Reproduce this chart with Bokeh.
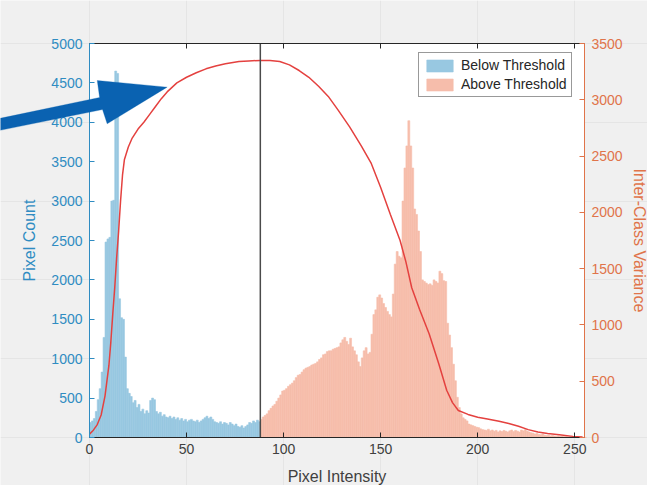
from bokeh.plotting import figure
from bokeh.models import (Range1d, LinearAxis, Legend, LegendItem, Label,
                          PolyAnnotation, BoxAnnotation, ColumnDataSource,
                          FixedTicker)
from bokeh.embed import file_html
from bokeh.resources import INLINE

# ---------------- data ----------------
THRESHOLD = 88

# pixel counts for intensities 0..87 (below threshold)
BELOW_COUNTS = [
    190, 210, 240, 330, 480, 620, 830, 1270, 2480, 2520,
    2540, 3000, 3010, 4650, 4620, 1760, 1520, 1500, 1020, 620,
    560, 520, 440, 470, 380, 420, 330, 360, 300, 340,
    310, 470, 500, 480, 330, 300, 320, 270, 290, 260,
    250, 270, 240, 260, 230, 250, 220, 240, 210, 230,
    200, 220, 230, 210, 200, 220, 190, 210, 230, 250,
    270, 240, 260, 230, 200, 190, 180, 200, 170, 190,
    180, 160, 190, 170, 150, 170, 140, 130, 150, 120,
    140, 160, 190, 180, 210, 190, 220, 200,
]

# pixel counts for intensities 88..255 (above threshold)
ABOVE_COUNTS = [
    230, 260, 280, 300, 340, 370, 400, 420, 460, 500,
    540, 590, 600, 620, 650, 670, 690, 720, 760, 790,
    800, 830, 860, 880, 890, 900, 920, 930, 940, 960,
    990, 1010, 1050, 1060, 1090, 1100, 1100, 1120, 1130, 1140,
    1150, 1200, 1240, 1270, 1220, 1180, 1260, 1150, 1100, 1050,
    960, 900, 1010, 1100, 1140, 1060, 1080, 1310, 1560, 1620,
    1780, 1810, 1770, 1700, 1650, 1600, 1560, 1530, 1820, 2200,
    2360, 2300, 2280, 3000, 3420, 3700, 4020, 3700, 3420, 2900,
    2830, 2620, 2360, 2000, 1980, 1960, 1940, 1950, 1930, 2000,
    1980, 1960, 2110, 2080, 1990, 1980, 1450, 1300, 1140, 930,
    720, 510, 380, 300, 250, 230, 210, 170, 160, 150,
    140, 130, 125, 110, 100, 95, 90, 105, 85, 95,
    80, 90, 70, 85, 75, 90, 80, 70, 85, 95,
    75, 90, 80, 70, 95, 85, 100, 80, 70, 60,
    55, 45, 50, 40, 35, 45, 30, 25, 30, 20,
    25, 20, 15, 20, 15, 20, 12, 15, 10, 12,
    8, 10, 6, 5, 4, 3, 2, 1,
]

# inter-class variance curve, sampled points (intensity, variance)
VAR_BINS = [0, 2, 4, 6, 8, 10, 11, 12, 13, 14, 15, 16, 17, 18, 20, 22, 25, 28,
            31, 34, 37, 40, 45, 50, 55, 60, 65, 70, 77, 82, 88, 93, 98, 103,
            108, 113, 118, 123, 128, 134, 140, 145, 150, 155, 160, 163, 166,
            170, 175, 180, 184, 187, 190, 195, 200, 205, 211, 216, 221, 226,
            231, 236, 242, 249, 254]
VAR_VALUES = [30, 65, 115, 200, 370, 640, 850, 1100, 1330, 1600, 1830, 2100,
              2330, 2470, 2580, 2660, 2740, 2800, 2870, 2940, 3010, 3070, 3150,
              3200, 3240, 3275, 3300, 3320, 3340, 3345, 3350, 3350, 3340, 3310,
              3260, 3200, 3120, 3030, 2910, 2760, 2590, 2440, 2220, 1980, 1750,
              1560, 1330, 1140, 920, 650, 420, 310, 240, 205, 180, 165, 145,
              125, 100, 70, 48, 35, 25, 10, 5]

X_MIN, X_MAX = 0, 255
COUNT_MAX = 5000
VAR_MAX = 3500
X_TICKS = [0, 50, 100, 150, 200, 250]
COUNT_TICKS = [0, 500, 1000, 1500, 2000, 2500, 3000, 3500, 4000, 4500, 5000]
VAR_TICKS = [0, 500, 1000, 1500, 2000, 2500, 3000, 3500]

X_LABEL = "Pixel Intensity"
Y_LABEL = "Pixel Count"
Y2_LABEL = "Inter-Class Variance"

# annotation arrow outline (data units of the count axis)
ARROW_X = [-46.5, 5.2, 4.0, 40.0, 9.1, 6.7, -46.5]
ARROW_Y = [4048, 4315, 4530, 4446, 3981, 4162, 3896]

# ---------------- layout / styling ----------------
FIG_W, FIG_H = 647, 485
BOX_L, BOX_R, BOX_T, BOX_B = 89, 584, 43, 437   # axes box, canvas pixels
FONT = "Liberation Sans"
BG = "#f0f0f0"
BLUE_AX = "#2f8cc2"
ORANGE_AX = "#e0744a"
DARK_AX = "#262626"
BLUE_BAR = "#98c8e1"
SALMON_BAR = "#f6bdab"
CURVE = "#e4413f"
ARROW_COLOR = "#0a62b1"

# The plotting frame covers the whole canvas (so nothing is clipped, and the
# arrow can reach the left edge); axes sit at fixed data locations.
ppx = (BOX_R - BOX_L) / (X_MAX - X_MIN)
ppy = (BOX_B - BOX_T) / COUNT_MAX
x_range = Range1d(X_MIN - BOX_L / ppx, X_MAX + (FIG_W - BOX_R) / ppx)
y_lo = -(FIG_H - BOX_B) / ppy
y_hi = COUNT_MAX + BOX_T / ppy
y_range = Range1d(y_lo, y_hi)
var_scale = VAR_MAX / COUNT_MAX
var_range = Range1d(y_lo * var_scale, y_hi * var_scale)

below_src = ColumnDataSource(dict(
    x=[i + 0.5 for i in range(len(BELOW_COUNTS))], top=BELOW_COUNTS))
above_src = ColumnDataSource(dict(
    x=[THRESHOLD + i + 0.5 for i in range(len(ABOVE_COUNTS))], top=ABOVE_COUNTS))

p = figure(width=FIG_W, height=FIG_H, output_backend="svg",
           toolbar_location=None, x_range=x_range, y_range=y_range,
           x_axis_location=None, y_axis_location=None,
           min_border=0, background_fill_color=BG, border_fill_color=BG,
           outline_line_color=None)
p.extra_y_ranges = {"var": var_range}

# white axes box
p.add_layout(BoxAnnotation(left=X_MIN, right=X_MAX, bottom=0, top=COUNT_MAX,
                           fill_color="white", fill_alpha=1, line_color=None,
                           level="underlay"))

r_below = p.vbar(x="x", top="top", width=1.0, source=below_src,
                 fill_color=BLUE_BAR, line_color=BLUE_BAR, line_width=0.6)
r_above = p.vbar(x="x", top="top", width=1.0, source=above_src,
                 fill_color=SALMON_BAR, line_color=SALMON_BAR, line_width=0.6)

p.line(VAR_BINS, VAR_VALUES, y_range_name="var", line_color=CURVE,
       line_width=1.5)

# threshold line
p.segment(x0=[THRESHOLD], y0=[0], x1=[THRESHOLD], y1=[COUNT_MAX],
          line_color="#4a4a4a", line_width=1.5)


def style_axis(ax, color, label_color, ticks, label_size="14px"):
    ax.ticker = FixedTicker(ticks=ticks)
    ax.axis_line_color = color
    ax.axis_line_width = 1
    ax.major_tick_line_color = color
    ax.major_tick_in = 5
    ax.major_tick_out = 0
    ax.minor_tick_line_color = None
    ax.major_label_text_font = FONT
    ax.major_label_text_font_size = label_size
    ax.major_label_text_color = label_color
    ax.axis_label_text_font = FONT
    ax.axis_label_text_font_style = "normal"
    ax.axis_label_text_color = label_color


xa = LinearAxis(fixed_location=0, bounds=(X_MIN, X_MAX))
style_axis(xa, DARK_AX, "#404040", X_TICKS)
xa.major_label_standoff = 6
p.add_layout(xa, "below")

ta = LinearAxis(fixed_location=COUNT_MAX, bounds=(X_MIN, X_MAX))
style_axis(ta, DARK_AX, "#404040", X_TICKS)
ta.major_label_text_color = None
ta.major_label_text_font_size = "1px"
ta.major_label_standoff = 0
p.add_layout(ta, "above")

ya = LinearAxis(fixed_location=X_MIN, bounds=(0, COUNT_MAX))
style_axis(ya, BLUE_AX, BLUE_AX, COUNT_TICKS)
ya.axis_label = Y_LABEL
ya.axis_label_text_font_size = "16px"
ya.major_label_standoff = 7
ya.axis_label_standoff = 10
p.add_layout(ya, "left")

ra = LinearAxis(fixed_location=X_MAX, y_range_name="var", bounds=(0, VAR_MAX))
style_axis(ra, ORANGE_AX, ORANGE_AX, VAR_TICKS)
ra.axis_label = Y2_LABEL
ra.axis_label_text_font_size = "16px"
ra.major_label_standoff = 7
ra.axis_label_standoff = 5
p.add_layout(ra, "right")

# x axis title, centred under the axes box
p.add_layout(Label(x=(X_MIN + X_MAX) / 2, y=0, y_offset=-39, text=X_LABEL,
                   text_font=FONT, text_font_size="16px", text_color="#404040",
                   text_align="center", text_baseline="middle"))

legend = Legend(items=[LegendItem(label="Below Threshold", renderers=[r_below]),
                       LegendItem(label="Above Threshold", renderers=[r_above])],
                location=(418, FIG_H - 97))
legend.label_text_font = FONT
legend.label_text_font_size = "14px"
legend.label_text_color = "#262626"
legend.glyph_width = 33
legend.glyph_height = 15
legend.label_height = 15
legend.label_standoff = 5
legend.padding = 4
legend.spacing = 3
legend.margin = 0
legend.border_line_color = "#333333"
legend.border_line_width = 1
legend.background_fill_color = "white"
legend.background_fill_alpha = 1
p.add_layout(legend, "center")

p.add_layout(PolyAnnotation(xs=ARROW_X, ys=ARROW_Y, xs_units="data",
                            ys_units="data", fill_color=ARROW_COLOR,
                            fill_alpha=1, line_color=ARROW_COLOR, line_width=1))

open("out.html", "w").write(file_html(p, INLINE))
